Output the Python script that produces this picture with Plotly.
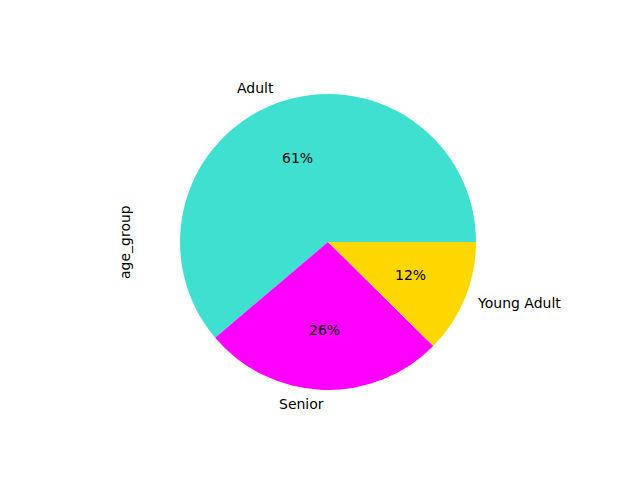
import numpy as np
import plotly.graph_objects as go

labels = ["Adult", "Senior", "Young Adult"]
values = [612, 264, 124]
colors = ["#40E0D0", "#FF00FF", "#FFD700"]

W, H = 640, 480
cx, cy, R = 328, 242, 148
ml, mr, mt, mb = cx - R, W - (cx + R), cy - R, H - (cy + R)

total = sum(values)
# plotly (counterclockwise) ends the first slice at the rotation angle;
# matplotlib starts the first slice at 3 o'clock
rot = 90 - 360 * values[0] / total

fig = go.Figure(go.Pie(
    labels=labels, values=values, sort=False,
    direction="counterclockwise", rotation=rot,
    marker=dict(colors=colors, line=dict(width=0)),
    textinfo="none", hoverinfo="label+percent",
    showlegend=False,
))

ann = []
start = 0.0
font = dict(family="DejaVu Sans", size=14, color="black")
for lab, v in zip(labels, values):
    frac = v / total
    mid = np.deg2rad((start + frac / 2) * 360)
    start += frac
    x, y = np.cos(mid), np.sin(mid)
    ann.append(dict(x=0.5 + 0.55 * x, y=0.5 + 0.55 * y, xref="paper", yref="paper",
                    text=lab, showarrow=False, font=font, borderpad=0,
                    xshift=-3 if x > 0 else 3, yshift=1,
                    xanchor="left" if x > 0 else "right", yanchor="middle"))
    ann.append(dict(x=0.5 + 0.3 * x, y=0.5 + 0.3 * y, xref="paper", yref="paper",
                    text="%1.0f%%" % (frac * 100), showarrow=False, font=font,
                    yshift=1, xanchor="center", yanchor="middle"))
ann.append(dict(x=(125 - ml) / (2 * R), y=0.5, xref="paper", yref="paper",
                text="age_group", textangle=-90, showarrow=False, font=font,
                xanchor="center", yanchor="middle"))

fig.update_layout(
    width=W, height=H,
    margin=dict(l=ml, r=mr, t=mt, b=mb, autoexpand=False),
    paper_bgcolor="white", plot_bgcolor="white",
    annotations=ann,
)
fig.write_html("out.html")
